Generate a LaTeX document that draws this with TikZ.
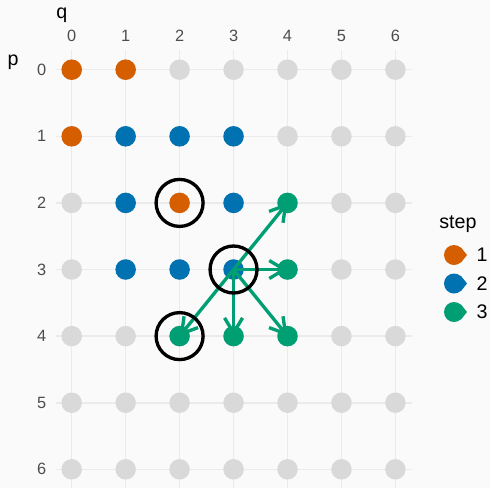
\documentclass[tikz,border=0pt]{standalone}
\usepackage{fontspec}
\setmainfont{Liberation Sans}
\usetikzlibrary{arrows.meta}

\definecolor{stepone}{HTML}{D55E00}
\definecolor{steptwo}{HTML}{0072B2}
\definecolor{stepthree}{HTML}{009E73}
\definecolor{panelbg}{HTML}{FAFAFA}
\definecolor{gridcol}{HTML}{EBEBEB}
\definecolor{dotgray}{HTML}{D9D9D9}
\definecolor{ticktext}{HTML}{4D4D4D}

\begin{document}
\begin{tikzpicture}[x=0.02cm, y=-0.02cm,
    dot/.style={circle, fill=dotgray, inner sep=0pt, minimum size=0.41cm},
    ring/.style={circle, draw=black, line width=1.9pt, inner sep=0pt, minimum size=0.94cm},
    move/.style={stepthree, line width=1.9pt,
        -{Straight Barb[length=0.3cm, width=0.36cm, line width=1.9pt]}},
    tick/.style={text=ticktext, inner sep=0pt, font=\fontsize{9.3}{11}\selectfont},
    ttl/.style={inner sep=0pt, font=\fontsize{11.2}{13}\selectfont}]
    % Nền và khung
    \fill[panelbg] (0,0) rectangle (490,488);
    \useasboundingbox (0,0) rectangle (490,488);

    % Lưới
    \foreach \q in {0,...,6}
        \draw[gridcol, line width=0.9pt] ({71.7+53.95*\q},50) -- ({71.7+53.95*\q},488);
    \foreach \p in {0,...,6}
        \draw[gridcol, line width=0.9pt] (56,{69.7+66.6*\p}) -- (412,{69.7+66.6*\p});

    % Nhãn trục
    \node[ttl, anchor=west] (qlab) at (56,15) {q};
    \node[ttl] (plab) at (13,62) {p};
    \foreach \q in {0,...,6}
        \node[tick] (tq\q) at ({71.7+53.95*\q},36) {\q};
    \foreach \p in {0,...,6}
        \node[tick, anchor=east] (tp\p) at (46.5,{69.7+66.6*\p}) {\p};

    % Các điểm (p,q)
    \foreach \p in {0,...,6}
        \foreach \q in {0,...,6}
            \node[dot] (g\p\q) at ({71.7+53.95*\q},{69.7+66.6*\p}) {};

    % Tô màu theo bước
    \foreach \n in {00,01,10,22}
        \node[dot, fill=stepone] (s\n) at (g\n) {};
    \foreach \n in {11,12,13,21,23,31,32,33}
        \node[dot, fill=steptwo] (s\n) at (g\n) {};
    \foreach \n in {24,34,42,43,44}
        \node[dot, fill=stepthree] (s\n) at (g\n) {};

    % Các bước đi từ (3,3)
    \foreach \n in {24,34,42,43,44}
        \draw[move] (g33.center) -- (g\n.center);

    % Khoanh tròn
    \foreach \n in {22,33,42}
        \node[ring] (r\n) at (g\n) {};

    % Chú thích
    \node[ttl] (steplab) at (458,224) {step};
    \foreach \c/\y/\t in {stepone/255/1, steptwo/283.5/2, stepthree/312/3} {
        \node[dot, fill=\c, minimum size=0.4cm] (key\t) at (454,\y) {};
        \fill[\c] (key\t.50) -- (467,\y) -- (key\t.-50) -- cycle;
        \node[ttl] (lab\t) at (482,\y) {\t};
    }
\end{tikzpicture}
\end{document}
